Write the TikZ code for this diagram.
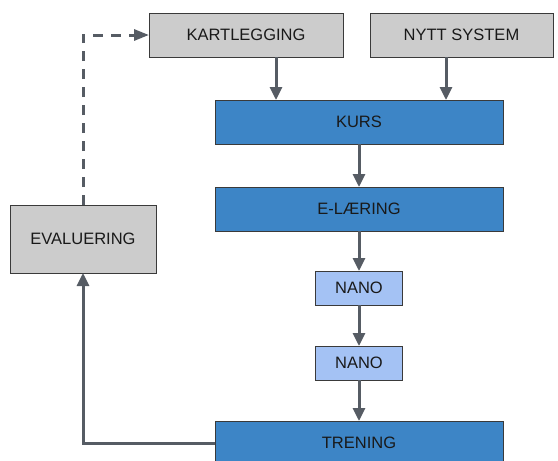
\documentclass[tikz,border=0pt]{standalone}
\usepackage{fontspec}
\setmainfont{Liberation Sans}
\usetikzlibrary{arrows.meta}

\definecolor{boxgray}{HTML}{CCCCCC}
\definecolor{kursblue}{HTML}{3D85C6}
\definecolor{nanoblue}{HTML}{A4C2F4}
\definecolor{linegray}{HTML}{565C64}
\definecolor{edgegray}{HTML}{3A3A3A}

\begin{document}
\begin{tikzpicture}[x = 1pt, y = -1pt,
    every node/.style={font=\fontsize{16.5}{19}\selectfont, text=black!90, inner sep=0, outer sep=0, draw=edgegray, line width=0.9pt},
    graybox/.style={fill=boxgray, minimum height=44pt},
    bluebox/.style={fill=kursblue, minimum width=288pt, minimum height=44pt},
    nanobox/.style={fill=nanoblue, minimum width=87pt, minimum height=34pt},
    flow/.style={-{Triangle[width=12pt,length=13pt]}, line width=3pt, draw=linegray}]

        \clip (0, 0) rectangle (558, 461);

        % Top boxes
        \node (kart) [graybox, minimum width = 194pt] at (246, 35) {KARTLEGGING};
        \node (nytt) [graybox, minimum width = 183pt] at (461.5, 35) {NYTT SYSTEM};

        % Main column
        \node (kurs) [bluebox] at (359, 122) {KURS};
        \node (elaering) [bluebox] at (359, 209) {E-LÆRING};
        \node (nano1) [nanobox] at (359, 288) {NANO};
        \node (nano2) [nanobox] at (359, 363) {NANO};
        \node (trening) [bluebox] at (359, 443) {TRENING};

        % Evaluation
        \node (eval) [fill=boxgray, minimum width = 146pt, minimum height = 68pt] at (83, 239) {EVALUERING};

        %% Arrows
        \draw [flow] ([xshift = 30pt]kart.south) -- ([xshift = -83pt]kurs.north);
        \draw [flow] ([xshift = -15.5pt]nytt.south) -- ([xshift = 87pt]kurs.north);
        \draw [flow] (kurs.south) -- (elaering.north);
        \draw [flow] (elaering.south) -- (nano1.north);
        \draw [flow] (nano1.south) -- (nano2.north);
        \draw [flow] (nano2.south) -- (trening.north);
        \draw [flow] (trening.west) -| (eval.south);
        \draw [flow, -{Triangle[width=11pt,length=15pt]}, dash pattern = on 10pt off 8pt] (eval.north) |- (kart.west);

    \end{tikzpicture}
\end{document}
